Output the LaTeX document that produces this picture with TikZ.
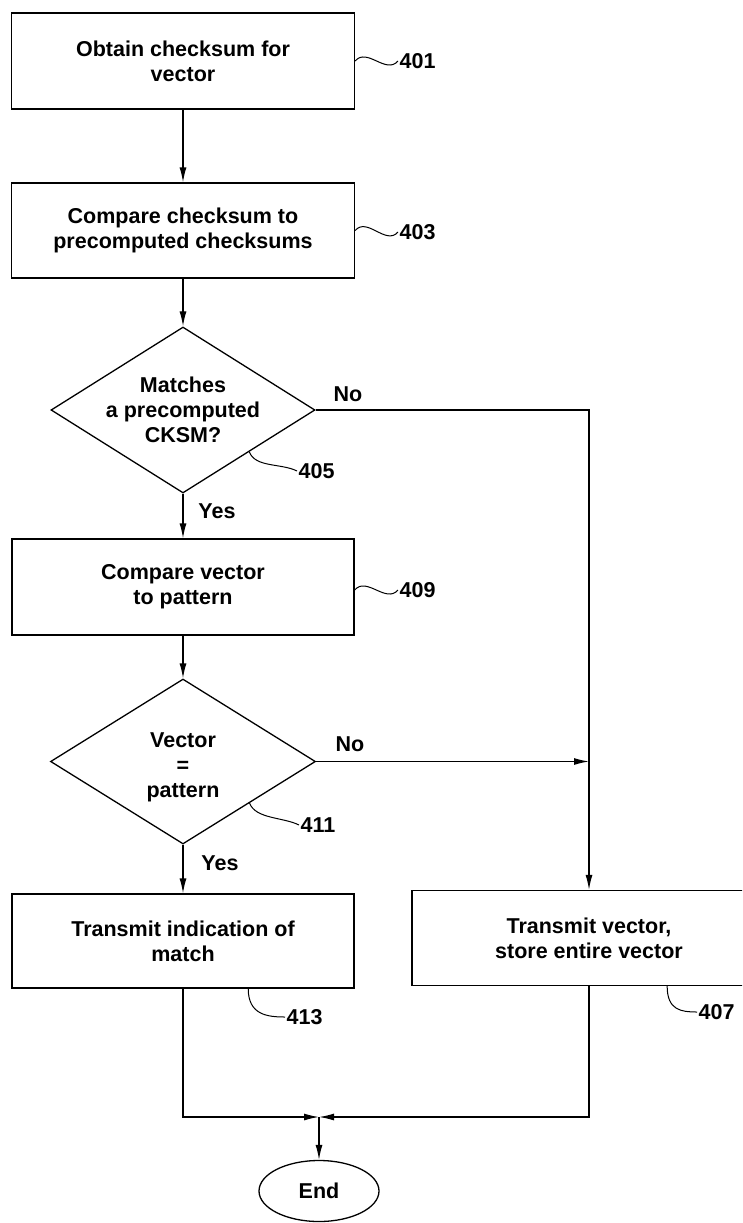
\documentclass[tikz,border=0pt]{standalone}
\usepackage{fontspec}
\setmainfont{Liberation Sans}
\usetikzlibrary{shapes.geometric,arrows.meta,calc}
\begin{document}
\begin{tikzpicture}[x=1pt,y=-1pt,
 line width=1.3pt,
 every node/.style={font=\bfseries\fontsize{21.5}{25}\selectfont},
 procbox/.style={draw, rectangle, align=center, inner sep=0pt},
 decision/.style={draw, diamond, align=center, inner sep=0pt, aspect=1.6},
 terminal/.style={draw, ellipse, inner sep=0pt},
 flow/.style={-{Latex[length=15pt,width=7pt]}},
 reflabel/.style={anchor=west, inner sep=1pt},
 lead/.style={line width=1pt}]
\useasboundingbox (0,0) rectangle (742,1223);

\node[procbox, minimum width=343pt, minimum height=96pt] (b401) at (183,61) {Obtain checksum for\\vector};
\node[procbox, minimum width=343pt, minimum height=95pt] (b403) at (183,230.5) {Compare checksum to\\precomputed checksums};
\node[decision, minimum width=264pt, minimum height=166pt] (d405) at (183,410) {Matches\\a precomputed\\CKSM?};
\node[procbox, minimum width=342pt, minimum height=96pt] (b409) at (183,587) {Compare vector\\to pattern};
\node[decision, minimum width=265pt, minimum height=165pt] (d411) at (183,761.5)
  {\raisebox{-6pt}[\height][\depth]{\begin{tabular}{@{}c@{}}Vector\\=\\pattern\end{tabular}}};
\node[procbox, minimum width=342pt, minimum height=94pt] (b413) at (183,941) {Transmit indication of\\match};
\begin{scope}
\clip (0,0) rectangle (742,1223);
\node[procbox, minimum width=354pt, minimum height=95pt] (b407) at (589,938) {Transmit vector,\\store entire vector};
\end{scope}
\node[terminal, minimum width=120pt, minimum height=61pt] (end) at (319,1191) {End};

% connectors
\draw[flow] (b401) -- (b403);
\draw[flow] (b403) -- (d405);
\draw[flow] (d405) -- (b409);
\draw[flow] (b409) -- (d411);
\draw[flow] (d411) -- (b413);
\draw[flow] (d405.east) -| (b407.north);
\draw[flow] (d411.east) -- (d411.east -| b407.north);
\coordinate (m) at (319,1117);
\draw[flow] (b413.south) |- (m);
\draw[flow] (b407.south) |- (m);
\draw[flow] (m) -- (end.north);

% branch labels
\node (no1) at (348,394) {No};
\node (yes1) at (217,511) {Yes};
\node (no2) at (350,744) {No};
\node (yes2) at (220,863) {Yes};

% reference numerals
\node[reflabel] (l401) at (398,61) {401};
\draw[lead] (b401.east) .. controls +(12,-14) and +(-12,14) .. (l401.west);
\node[reflabel] (l403) at (398,232) {403};
\draw[lead] (b403.east) .. controls +(12,-14) and +(-12,14) .. (l403.west);
\node[reflabel] (l409) at (398,590) {409};
\draw[lead] (b409.east |- l409.west) .. controls +(12,-14) and +(-12,14) .. (l409.west);
\node[reflabel] (l405) at (297,471) {405};
\draw[lead] ($(d405.east)!0.5!(d405.south)$) .. controls +(6,16) and +(-16,-8) .. (l405.west);
\node[reflabel] (l411) at (299,825) {411};
\draw[lead] ($(d411.east)!0.5!(d411.south)$) .. controls +(6,16) and +(-16,-8) .. (l411.west);
\coordinate (s413) at ($(b413.south west)!0.69!(b413.south east)$);
\node[reflabel] (l413) at (285,1017) {413};
\draw[lead] (s413) .. controls +(0,26) and +(-18,0) .. (l413.west);
\coordinate (s407) at ($(b407.south west)!0.72!(b407.south east)$);
\node[reflabel] (l407) at (697,1012) {407};
\draw[lead] (s407) .. controls +(0,24) and +(-16,0) .. (l407.west);
\end{tikzpicture}
\end{document}
